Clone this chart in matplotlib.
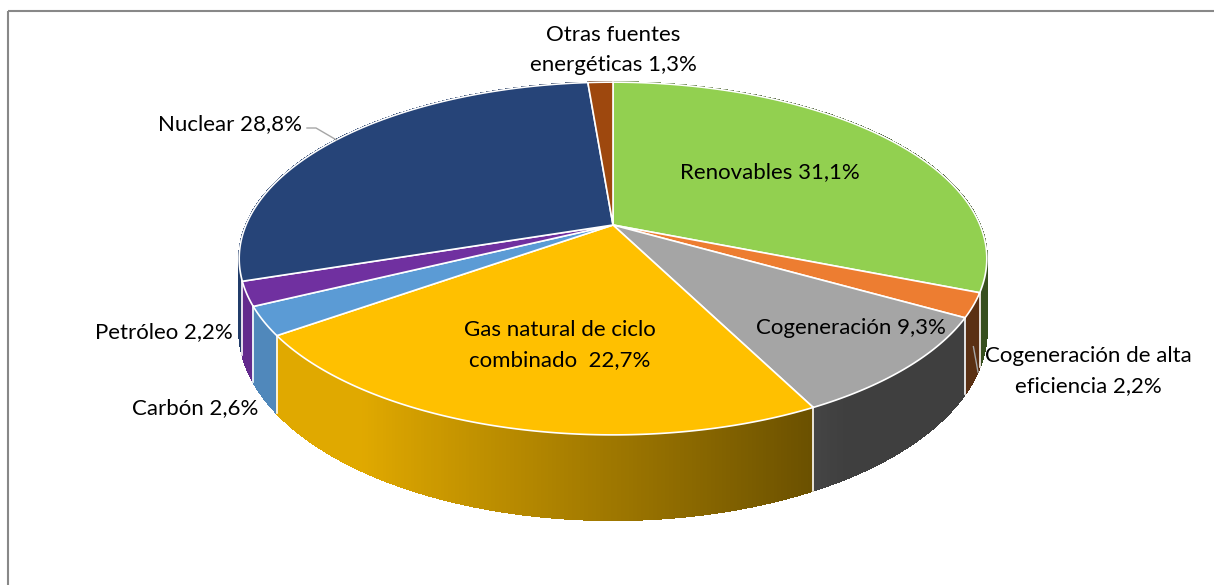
import numpy as np
import matplotlib
matplotlib.use("Agg")
import matplotlib.pyplot as plt
from matplotlib.collections import PolyCollection
from matplotlib.colors import to_rgb

# -----------------------------
# Data
# -----------------------------
names = ["Renovables", "Cogeneración de alta\neficiencia", "Cogeneración",
         "Gas natural de ciclo\ncombinado ", "Carbón", "Petróleo", "Nuclear",
         "Otras fuentes\nenergéticas"]
values = [31.1, 2.2, 9.3, 22.7, 2.6, 2.2, 28.8, 1.3]
colors = ["#92D050", "#ED7D31", "#A5A5A5", "#FFC000", "#5B9BD5", "#7030A0",
          "#264478", "#9E480E"]

# -----------------------------
# Layout (pixels)
# -----------------------------
W, H_FIG = 1214, 585
CX, CY = 613, 225       # apex of the pie
A, B = 367, 170         # radii of the top face
K = 0.19                # perspective strength
DEPTH = 69              # thickness of the pie

plt.rcParams["font.family"] = ["Lato", "DejaVu Sans"]

fig = plt.figure(figsize=(W / 100, H_FIG / 100), dpi=100)
ax = fig.add_axes([0, 0, 1, 1])
ax.set_xlim(0, W)
ax.set_ylim(H_FIG, 0)
ax.axis("off")


def proj(theta, z=0.0):
    # theta: clockwise from 12 o'clock
    u, v = np.sin(theta), np.cos(theta)
    w = 1 + K * v
    return CX + A * u / w, CY + (-B * v + z) / w


def shade(c, u):
    f = np.clip(0.62 - 0.45 * u, 0.38, 0.88)
    return tuple(np.array(to_rgb(c)) * f)


total = sum(values)
bounds = np.concatenate([[0], np.cumsum(values)]) / total * 2 * np.pi

# -----------------------------
# Side wall (drawn back to front)
# -----------------------------
strips = []
for i in range(len(values)):
    t0, t1 = bounds[i], bounds[i + 1]
    n = max(2, int(np.degrees(t1 - t0) / 0.5))
    ts = np.linspace(t0, t1, n + 1)
    for a, b in zip(ts[:-1], ts[1:]):
        xa, ya = proj(a)
        xb, yb = proj(b)
        xa2, ya2 = proj(a, DEPTH)
        xb2, yb2 = proj(b, DEPTH)
        m = (a + b) / 2
        strips.append((np.cos(m), [(xa, ya), (xb, yb), (xb2, yb2), (xa2, ya2)],
                       shade(colors[i], np.sin(m))))
strips.sort(key=lambda s: -s[0])
ax.add_collection(PolyCollection([s[1] for s in strips],
                                 facecolors=[s[2] for s in strips],
                                 edgecolors=[s[2] for s in strips],
                                 linewidths=0.8, antialiaseds=False))

# white separators on the visible wall
for t in bounds[:-1]:
    if np.cos(t) < -K:
        x0, y0 = proj(t)
        x1, y1 = proj(t, DEPTH)
        ax.plot([x0, x1], [y0, y1], color="white", lw=1.2)

# -----------------------------
# Top face
# -----------------------------
for i in range(len(values)):
    ts = np.linspace(bounds[i], bounds[i + 1], 200)
    xs, ys = proj(ts)
    pts = [(CX, CY)] + list(zip(xs, ys))
    ax.add_patch(plt.Polygon(pts, closed=True, facecolor=colors[i],
                             edgecolor="white", lw=1.2))

# -----------------------------
# Labels
# -----------------------------
labels = [f"{n} {v:.1f}%".replace(".", ",") for n, v in zip(names, values)]
fs = 16
ls = 1.6
ax.text(770, 172, labels[0], fontsize=fs, ha="center", va="center")
ax.text(1088, 371, labels[1], fontsize=fs, ha="center", va="center",
        linespacing=ls)
ax.text(851, 328, labels[2], fontsize=fs, ha="center", va="center")
ax.text(560, 345, labels[3], fontsize=fs, ha="center", va="center",
        linespacing=ls)
ax.text(258, 408, labels[4], fontsize=fs, ha="right", va="center")
ax.text(233, 332, labels[5], fontsize=fs, ha="right", va="center")
ax.text(302, 124, labels[6], fontsize=fs, ha="right", va="center")
ax.text(613, 50, labels[7], fontsize=fs, ha="center", va="center",
        linespacing=ls)

# leader lines
mid_nuc = (bounds[6] + bounds[7]) / 2
xn, yn = proj(mid_nuc)
ax.plot([307, 316, xn], [128, 128, yn], color="#A6A6A6", lw=1)
mid_cae = (bounds[1] + bounds[2]) / 2
xc, yc = proj(mid_cae, DEPTH * 0.55)
ax.plot([978, xc], [372, yc], color="#A6A6A6", lw=1)

# chart border (top and left visible)
ax.plot([8, W], [11, 11], color="#888888", lw=1.5, solid_capstyle="butt")
ax.plot([8, 8], [11, H_FIG], color="#888888", lw=1.5, solid_capstyle="butt")

fig.savefig("out.png", dpi=100)
